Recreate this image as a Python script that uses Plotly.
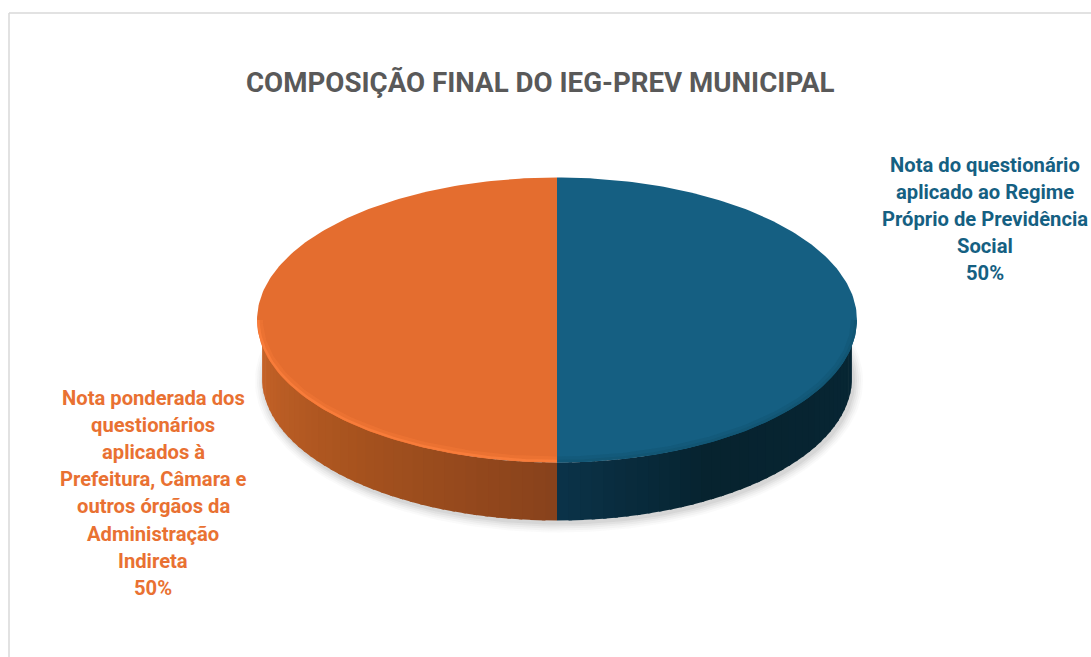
import numpy as np
import plotly.graph_objects as go

title = "COMPOSIÇÃO FINAL DO IEG-PREV MUNICIPAL"
slice_names = ["Nota do questionário aplicado ao Regime Próprio de Previdência Social",
               "Nota ponderada dos questionários aplicados à Prefeitura, Câmara e outros órgãos da Administração Indireta"]
slice_values = [50, 50]
slice_colors = ["#155f82", "#e46d2f"]
rim_colors = ["#125674", "#f87c3a"]
rim_soft = ["rgba(18,86,116,0.5)", "rgba(248,124,58,0.35)"]
wall_stops = [[(0.0, "#0b3349"), (0.35, "#07232f"), (1.0, "#082735")],
              [(0.0, "#c9652a"), (0.5, "#a9541f"), (1.0, "#88421c")]]
label_lines = [["Nota do questionário", "aplicado ao Regime", "Próprio de Previdência", "Social", "50%"],
               ["Nota ponderada dos", "questionários", "aplicados à", "Prefeitura, Câmara e",
                "outros órgãos da", "Administração", "Indireta", "50%"]]
label_colors = ["#156082", "#e97132"]
label_x = [985, 153]
label_y0 = [165, 398]
line_gap = 27.1

W, H = 1091, 657
CX, CY, RX, RY = 557, 320, 300, 142.5
WALL_RX, WALL_DROP = 295, 58

def hex2rgb(c):
    return np.array([int(c[i:i + 2], 16) for i in (1, 3, 5)], float)

def stop_color(stops, t):
    for (a, ca), (b, cb) in zip(stops, stops[1:]):
        if t <= b:
            f = (t - a) / (b - a)
            r = hex2rgb(ca) * (1 - f) + hex2rgb(cb) * f
            return "rgb(%d,%d,%d)" % tuple(r)
    return stops[-1][1]

fig = go.Figure()

def poly(x, y, color):
    fig.add_trace(go.Scatter(x=x, y=y, mode="lines", fill="toself", fillcolor=color,
                             line=dict(width=0), hoverinfo="skip", showlegend=False))

# soft shadow under the disc
ta = np.linspace(0, 2 * np.pi, 240)
for grow, alpha in [(9, 0.035), (7, 0.05), (5, 0.06), (3, 0.08), (1, 0.10)]:
    poly(CX + 2 + (WALL_RX + grow) * np.cos(ta), CY + WALL_DROP + 3 + (RY + grow) * np.sin(ta),
         "rgba(120,120,120,%.3f)" % alpha)

shares = np.array(slice_values, float) / sum(slice_values)
edges = -np.pi / 2 + 2 * np.pi * np.concatenate([[0], np.cumsum(shares)])

# side wall, only the part of each slice facing the viewer
for i in range(len(shares)):
    lo, hi = max(edges[i], 0.0), min(edges[i + 1], np.pi)
    if hi <= lo:
        continue
    bands = np.linspace(lo, hi, 41)
    ordered = list(zip(bands[:-1], bands[1:]))
    if i == 0:
        ordered = ordered[::-1]
    for a, b in ordered:
        t = (0.5 * (a + b) - lo) / (hi - lo)
        c = stop_color(wall_stops[i], 1 - t)
        # each band overlaps its neighbour slightly so that no seams show
        tb = np.linspace(max(a - 0.012, lo), b, 4) if i == 0 else np.linspace(a, min(b + 0.012, hi), 4)
        xb = CX + WALL_RX * np.cos(tb)
        poly(np.r_[xb, xb[::-1]],
             np.r_[CY + RY * np.sin(tb), (CY + WALL_DROP + RY * np.sin(tb))[::-1]], c)

# top face
for i in range(len(shares)):
    th = np.linspace(edges[i], edges[i + 1], 200)
    poly(np.r_[CX, CX + RX * np.cos(th), CX], np.r_[CY, CY + RY * np.sin(th), CY], slice_colors[i])

# bevel highlight along the front rim: a soft wide line and a narrower one
for i in range(len(shares)):
    lo, hi = max(edges[i], 0.0), min(edges[i + 1], np.pi)
    th = np.linspace(lo, hi, 120)
    for inset, color, width in [(3.0, rim_soft[i], 6), (1.5, rim_colors[i], 2.5)]:
        fig.add_trace(go.Scatter(x=CX + (RX - inset) * np.cos(th), y=CY + (RY - inset) * np.sin(th), mode="lines",
                                 line=dict(color=color, width=width), hoverinfo="skip", showlegend=False))

# frame of the original chart area
fig.add_shape(type="line", x0=9, x1=9, y0=13, y1=H, line=dict(color="#d9d9d9", width=1.5))
fig.add_shape(type="line", x0=9, x1=W, y0=13, y1=13, line=dict(color="#d9d9d9", width=1.5))

fig.add_annotation(x=540.5, y=82, text="<b>%s</b>" % title, showarrow=False, xanchor="center", yanchor="middle",
                   font=dict(family="Roboto", size=27.7, color="#595959"))
for lines, color, lx, ly in zip(label_lines, label_colors, label_x, label_y0):
    for k, line in enumerate(lines):
        fig.add_annotation(x=lx, y=ly + k * line_gap, text="<b>%s</b>" % line, showarrow=False,
                           xanchor="center", yanchor="middle", font=dict(family="Roboto", size=20.2, color=color))

fig.update_layout(width=W, height=H, margin=dict(l=0, r=0, t=0, b=0), paper_bgcolor="white",
                  plot_bgcolor="white", showlegend=False,
                  xaxis=dict(range=[0, W], visible=False, fixedrange=True),
                  yaxis=dict(range=[H, 0], visible=False, fixedrange=True))
fig.write_html("out.html", config={"displayModeBar": False},
               post_script="document.body.style.margin='0';document.body.style.overflow='hidden';")
